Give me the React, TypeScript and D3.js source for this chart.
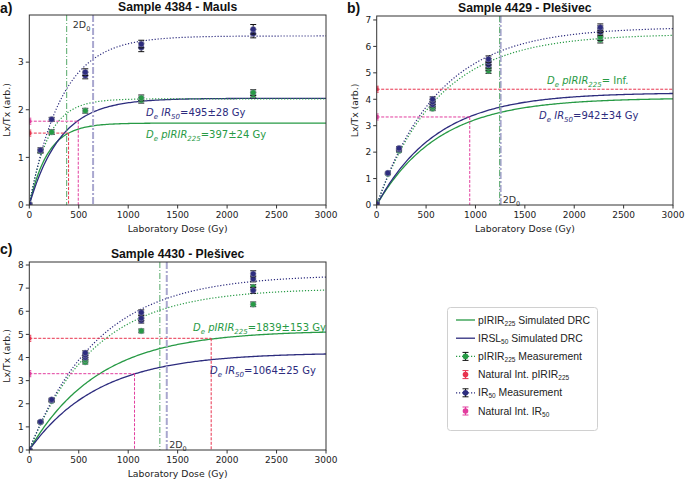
import React from "react";
import * as d3 from "d3";

const NAVY = "#2d2c7e";
const GREEN = "#279a45";
const RED = "#e8324e";
const PINK = "#e23d9e";
const LAVENDER = "#a9a7cf";
const GREEN_2D0 = "#55a868";
const AXIS = "#333";

// measured points: [dose (Gy), Lx/Tx, error]
const irA = [[0, 0.02, 0.02], [113, 1.15, 0.05], [226, 1.8, 0.04], [566, 2.72, 0.07], [566, 2.79, 0.07], [1132, 3.31, 0.09], [1132, 3.38, 0.08], [2264, 3.6, 0.09], [2264, 3.69, 0.1]];
const pirA = [[0, 0.02, 0.02], [113, 1.13, 0.04], [226, 1.53, 0.05], [566, 1.98, 0.05], [1132, 2.2, 0.06], [1132, 2.25, 0.06], [2264, 2.31, 0.06], [2264, 2.36, 0.06]];
const irB = [[0, 0.05, 0.02], [113, 1.21, 0.04], [226, 2.1, 0.06], [226, 2.15, 0.06], [566, 3.8, 0.09], [566, 3.9, 0.09], [566, 4.0, 0.09], [1132, 5.3, 0.12], [1132, 5.42, 0.12], [1132, 5.52, 0.12], [2264, 6.55, 0.13], [2264, 6.65, 0.13], [2264, 6.72, 0.13]];
const pirB = [[0, 0.1, 0.02], [113, 1.18, 0.03], [226, 2.05, 0.05], [566, 3.65, 0.08], [566, 3.72, 0.08], [1132, 5.08, 0.1], [1132, 5.2, 0.1], [2264, 6.25, 0.12], [2264, 6.35, 0.12]];
const irC = [[0, 0.02, 0.02], [113, 1.22, 0.04], [226, 2.15, 0.06], [226, 2.18, 0.06], [566, 4.0, 0.09], [566, 4.1, 0.09], [566, 4.2, 0.09], [1132, 5.6, 0.11], [1132, 5.7, 0.11], [1132, 5.95, 0.11], [2264, 6.9, 0.13], [2264, 7.4, 0.13], [2264, 7.62, 0.13]];
const pirC = [[0, 0.02, 0.02], [113, 1.2, 0.03], [226, 2.12, 0.05], [566, 3.8, 0.08], [566, 3.9, 0.08], [1132, 5.15, 0.08], [2264, 6.3, 0.1], [2264, 7.05, 0.1]];

// saturating exponential fits [A, D0] for panels a, b, c
const irMeasFit = [[3.55, 325], [6.73, 625], [7.58, 695]];
const pirMeasFit = [[2.23, 190], [6.47, 625], [6.99, 660]];
const irSimFit = [[2.24, 315], [4.25, 610], [4.21, 700]];
const pirSimFit = [[1.72, 189], [4.05, 626], [5.17, 700]];

// natural intensities and equivalent doses
const natIR = [1.76, 3.33, 3.3];
const deIR = [495, 942, 1064];
const natPIR = [1.51, 4.38, 4.83];
const dePIR = [397, null, 1839];
const twoD0IR = [645, 1255, 1390];
const twoD0PIR = [378, 1245, 1320];

const xTicks = [0, 500, 1000, 1500, 2000, 2500, 3000];
const yTicksA = [0, 1, 2, 3];
const yTicksB = [0, 1, 2, 3, 4, 5, 6, 7];
const yTicksC = [0, 1, 2, 3, 4, 5, 6, 7, 8];

const doseGrid = d3.range(0, 3001, 15);
const sat = (A: number, D0: number) => (d: number) => A * (1 - Math.exp(-d / D0));

const TICK_FONT = "DejaVu Sans";
const TITLE_FONT = "Liberation Sans";

// segments: [text, isSub, isItalic]
function Rich({ segs, subSize, shift = 2.5 }: any) {
  let level = 0;
  return (
    <>
      {segs.map((s: any, k: number) => {
        const target = s[1] ? shift : 0;
        const dy = target - level;
        level = target;
        return (
          <tspan key={k} dy={dy} fontSize={s[1] ? subSize : undefined} fontStyle={s[2] ? "italic" : undefined}>
            {s[0]}
          </tspan>
        );
      })}
    </>
  );
}

function Panel({ i, frame, ymax, yTicks, ir, pir, title, tag, notes, d0Label }: any) {
  const { left, top, right, bottom } = frame;
  const x = d3.scaleLinear().domain([0, 3000]).range([left, right]);
  const y = d3.scaleLinear().domain([0, ymax]).range([bottom, top]);
  const path = (fit: number[]) => {
    const f = sat(fit[0], fit[1]);
    return d3.line<number>().x((d) => x(d)).y((d) => y(f(d)))(doseGrid) || "";
  };
  const clipId = `clip-${i}`;
  const natLine = (nat: number, de: number | null, color: string) => (
    <g stroke={color} strokeWidth={1} strokeDasharray="3,1.5" fill="none">
      <line x1={x(0)} x2={de === null ? x(3000) : x(de)} y1={y(nat)} y2={y(nat)} />
      {de !== null && <line x1={x(de)} x2={x(de)} y1={y(nat)} y2={y(0)} />}
    </g>
  );
  const points = (rows: number[][], color: string) =>
    rows.map((r, k) => (
      <g key={k}>
        <line x1={x(r[0])} x2={x(r[0])} y1={y(r[1] - r[2])} y2={y(r[1] + r[2])} stroke="#111" strokeWidth={1} />
        <line x1={x(r[0]) - 3} x2={x(r[0]) + 3} y1={y(r[1] - r[2])} y2={y(r[1] - r[2])} stroke="#111" strokeWidth={1} />
        <line x1={x(r[0]) - 3} x2={x(r[0]) + 3} y1={y(r[1] + r[2])} y2={y(r[1] + r[2])} stroke="#111" strokeWidth={1} />
        <circle cx={x(r[0])} cy={y(r[1])} r={2.9} fill={color} stroke="#9a9ab0" strokeWidth={0.5} />
      </g>
    ));
  const natMarker = (v: number, color: string) => (
    <g>
      <line x1={x(0)} x2={x(0)} y1={y(v) - 3} y2={y(v) + 3} stroke={color} strokeWidth={1} />
      <line x1={x(0) - 2} x2={x(0) + 2} y1={y(v) - 3} y2={y(v) - 3} stroke={color} />
      <line x1={x(0) - 2} x2={x(0) + 2} y1={y(v) + 3} y2={y(v) + 3} stroke={color} />
      <rect x={x(0) - 2} y={y(v) - 2} width={4} height={4} fill={color} />
    </g>
  );
  const cx = (left + right) / 2;
  return (
    <g>
      <defs>
        <clipPath id={clipId}>
          <rect x={left} y={top} width={right - left} height={bottom - top} />
        </clipPath>
      </defs>
      <g clipPath={`url(#${clipId})`}>
        <path d={path(pirSimFit[i])} stroke={GREEN} strokeWidth={1.3} fill="none" />
        <path d={path(irSimFit[i])} stroke={NAVY} strokeWidth={1.3} fill="none" />
        <path d={path(pirMeasFit[i])} stroke={GREEN} strokeWidth={1.2} strokeDasharray="1.2,1.8" fill="none" />
        <path d={path(irMeasFit[i])} stroke={NAVY} strokeWidth={1.2} strokeDasharray="1.2,1.8" fill="none" />
        {natLine(natPIR[i], dePIR[i], RED)}
        {natLine(natIR[i], deIR[i], PINK)}
        <line x1={x(twoD0IR[i])} x2={x(twoD0IR[i])} y1={top} y2={bottom} stroke={LAVENDER} strokeWidth={2} strokeDasharray="7,2,2,2" />
        <line x1={x(twoD0PIR[i])} x2={x(twoD0PIR[i])} y1={top} y2={bottom} stroke={GREEN_2D0} strokeWidth={1} strokeDasharray="6,2,1,2" />
        {points(pir, GREEN)}
        {points(ir, NAVY)}
        {natMarker(natPIR[i], RED)}
        {natMarker(natIR[i], PINK)}
      </g>
      <rect x={left} y={top} width={right - left} height={bottom - top} fill="none" stroke={AXIS} strokeWidth={1} />
      <g fontFamily={TICK_FONT} fontSize={9} fill="#222">
        {xTicks.map((t) => (
          <g key={t}>
            <line x1={x(t)} x2={x(t)} y1={bottom} y2={bottom + 3.5} stroke={AXIS} />
            <text x={x(t)} y={bottom + 13} textAnchor="middle">{t}</text>
          </g>
        ))}
        {yTicks.map((t: number) => (
          <g key={t}>
            <line x1={left - 3.5} x2={left} y1={y(t)} y2={y(t)} stroke={AXIS} />
            <text x={left - 5.5} y={y(t) + 3.3} textAnchor="end">{t}</text>
          </g>
        ))}
        <text x={cx} y={bottom + 26.5} textAnchor="middle" fontSize={9.3}>Laboratory Dose (Gy)</text>
        <text transform={`translate(${left - 19},${(top + bottom) / 2}) rotate(-90)`} textAnchor="middle" fontSize={9.3}>Lx/Tx (arb.)</text>
        <text x={x(d0Label[0])} y={d0Label[1]} fontSize={9.5} fill="#333">
          <Rich segs={[["2D", false, false], ["0", true, false]]} subSize={6.5} />
        </text>
      </g>
      <text x={cx} y={top - 4} textAnchor="middle" fontFamily={TITLE_FONT} fontWeight="bold" fontSize={12.2} fill="#111">{title}</text>
      <text x={tag[0]} y={tag[1]} fontFamily={TITLE_FONT} fontWeight="bold" fontSize={14} fill="#111">{tag[2]}</text>
      <g fontFamily={TICK_FONT} fontSize={10}>
        {notes.map((n: any, k: number) => (
          <text key={k} x={n.x} y={n.y} fill={n.color}>
            <Rich
              subSize={7}
              segs={[["D", false, true], ["e", true, true], [" " + n.name, false, true], [n.sub, true, true], [n.text, false, false]]}
            />
          </text>
        ))}
      </g>
    </g>
  );
}

function Legend() {
  const x0 = 456;
  const rows = [
    { label: ["pIRIR", "225", " Simulated DRC"], kind: "solid", color: GREEN },
    { label: ["IRSL", "50", " Simulated DRC"], kind: "solid", color: NAVY },
    { label: ["pIRIR", "225", " Measurement"], kind: "meas", color: GREEN },
    { label: ["Natural Int. pIRIR", "225", ""], kind: "nat", color: RED },
    { label: ["IR", "50", " Measurement"], kind: "meas", color: NAVY },
    { label: ["Natural Int. IR", "50", ""], kind: "nat", color: PINK },
  ];
  const ys = d3.range(rows.length).map((k) => 320 + k * 18.2);
  return (
    <g fontFamily={TITLE_FONT} fontSize={10.4} fill="#222">
      <rect x={447.5} y={307.5} width={150} height={123} rx={3} fill="white" stroke="#d0d0d0" strokeWidth={1} />
      {rows.map((r, k) => {
        const yy = ys[k];
        const bar = r.kind === "meas" ? "#111" : r.color;
        const segs = [[r.label[0], false, false], [r.label[1], true, false]];
        if (r.label[2]) segs.push([r.label[2], false, false]);
        return (
          <g key={k}>
            {r.kind === "solid" && <line x1={x0} x2={x0 + 19} y1={yy} y2={yy} stroke={r.color} strokeWidth={1.3} />}
            {r.kind === "meas" && (
              <line x1={x0} x2={x0 + 19} y1={yy} y2={yy} stroke={r.color} strokeWidth={1.2} strokeDasharray="1.2,1.8" />
            )}
            {r.kind !== "solid" && (
              <g>
                <line x1={x0 + 9.5} x2={x0 + 9.5} y1={yy - 4} y2={yy + 4} stroke={bar} />
                <line x1={x0 + 6.5} x2={x0 + 12.5} y1={yy - 4} y2={yy - 4} stroke={bar} />
                <line x1={x0 + 6.5} x2={x0 + 12.5} y1={yy + 4} y2={yy + 4} stroke={bar} />
                <circle cx={x0 + 9.5} cy={yy} r={2.8} fill={r.color} />
              </g>
            )}
            <text x={478} y={yy + 3.6}>
              <Rich segs={segs} subSize={6.5} shift={2} />
            </text>
          </g>
        );
      })}
    </g>
  );
}

export default function App() {
  return (
    <svg
      width={685}
      height={479}
      viewBox="0 0 685 479"
      style={{ position: "absolute", left: 0, top: 0, background: "white" }}
    >
      <Panel
        i={0}
        frame={{ left: 29.3, top: 15, right: 326, bottom: 205 }}
        ymax={3.99}
        yTicks={yTicksA}
        ir={irA}
        pir={pirA}
        title="Sample 4384 - Mauls"
        tag={[0, 13, "a)"]}
        d0Label={[440, 28]}
        notes={[
          { x: 146, y: 116, color: NAVY, name: "IR", sub: "50", text: "=495±28 Gy" },
          { x: 146, y: 138, color: GREEN, name: "pIRIR", sub: "225", text: "=397±24 Gy" },
        ]}
      />
      <Panel
        i={1}
        frame={{ left: 376.7, top: 16, right: 673, bottom: 205 }}
        ymax={7.15}
        yTicks={yTicksB}
        ir={irB}
        pir={pirB}
        title="Sample 4429 - Plešivec"
        tag={[347, 13, "b)"]}
        d0Label={[1275, 203]}
        notes={[
          { x: 547, y: 84, color: GREEN, name: "pIRIR", sub: "225", text: "= Inf." },
          { x: 539, y: 119, color: NAVY, name: "IR", sub: "50", text: "=942±34 Gy" },
        ]}
      />
      <Panel
        i={2}
        frame={{ left: 29.3, top: 262, right: 326, bottom: 450 }}
        ymax={8.13}
        yTicks={yTicksC}
        ir={irC}
        pir={pirC}
        title="Sample 4430 - Plešivec"
        tag={[0, 254, "c)"]}
        d0Label={[1415, 448]}
        notes={[
          { x: 193, y: 331, color: GREEN, name: "pIRIR", sub: "225", text: "=1839±153 Gy" },
          { x: 210, y: 374, color: NAVY, name: "IR", sub: "50", text: "=1064±25 Gy" },
        ]}
      />
      <Legend />
    </svg>
  );
}
